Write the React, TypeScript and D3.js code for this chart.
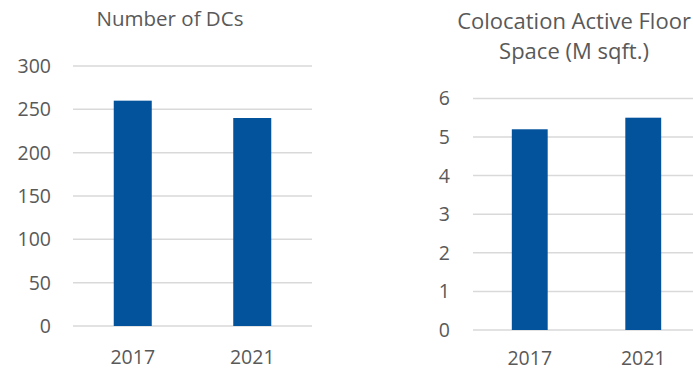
import React from "react";
import * as d3 from "d3";

const categories = ["2017", "2021"];
const dcValues = [260, 240];
const dcTicks = [0, 50, 100, 150, 200, 250, 300];
const spaceValues = [5.2, 5.5];
const spaceTicks = [0, 1, 2, 3, 4, 5, 6];

const BAR = "#02529C";
const GRID = "#D9D9D9";
const TEXT = "#595959";
const FONT = "'Open Sans', Lato, sans-serif";
const FS = 19.5;

type PanelProps = {
  values: number[];
  ticks: number[];
  x0: number;
  x1: number;
  yTop: number;
  yBottom: number;
  labelX: number;
  catY: number;
  barFrac: number;
  title: string[];
  titleX: number;
  titleY: number[];
  titleSize: number;
};

function Panel(p: PanelProps) {
  const y = d3
    .scaleLinear()
    .domain([0, d3.max(p.ticks) as number])
    .range([p.yBottom, p.yTop]);
  const x = d3
    .scaleBand()
    .domain(categories)
    .range([p.x0, p.x1])
    .paddingInner(0)
    .paddingOuter(0);
  const bw = x.bandwidth() * p.barFrac;
  return (
    <g>
      {p.title.map((t, i) => (
        <text
          key={t}
          x={p.titleX}
          y={p.titleY[i]}
          textAnchor="middle"
          fontSize={p.titleSize}
          fill={TEXT}
          fontFamily={FONT}
        >
          {t}
        </text>
      ))}
      {p.ticks.map((t) => (
        <g key={t}>
          <line
            x1={p.x0}
            x2={p.x1}
            y1={y(t)}
            y2={y(t)}
            stroke={GRID}
            strokeWidth={1.5}
          />
          <text
            x={p.labelX}
            y={y(t)}
            dy="0.36em"
            textAnchor="end"
            fontSize={FS}
            fill={TEXT}
            fontFamily={FONT}
          >
            {t}
          </text>
        </g>
      ))}
      {categories.map((c, i) => {
        const cx = (x(c) as number) + x.bandwidth() / 2;
        return (
          <g key={c}>
            <rect
              x={cx - bw / 2}
              width={bw}
              y={y(p.values[i])}
              height={p.yBottom - y(p.values[i])}
              fill={BAR}
            />
            <text
              x={cx}
              y={p.catY}
              textAnchor="middle"
              fontSize={FS}
              fill={TEXT}
              fontFamily={FONT}
            >
              {c}
            </text>
          </g>
        );
      })}
    </g>
  );
}

export default function App() {
  return (
    <svg
      width={693}
      height={370}
      style={{ position: "absolute", left: 0, top: 0, background: "#fff" }}
    >
      <Panel
        values={dcValues}
        ticks={dcTicks}
        x0={73}
        x1={312}
        yTop={66}
        yBottom={326}
        labelX={51}
        catY={364}
        barFrac={0.318}
        title={["Number of DCs"]}
        titleX={170}
        titleY={[26]}
        titleSize={20.5}
      />
      <Panel
        values={spaceValues}
        ticks={spaceTicks}
        x0={473}
        x1={700}
        yTop={98.4}
        yBottom={330}
        labelX={450}
        catY={365}
        barFrac={0.316}
        title={["Colocation Active Floor", "Space (M sqft.)"]}
        titleX={574}
        titleY={[29, 59]}
        titleSize={22}
      />
    </svg>
  );
}
